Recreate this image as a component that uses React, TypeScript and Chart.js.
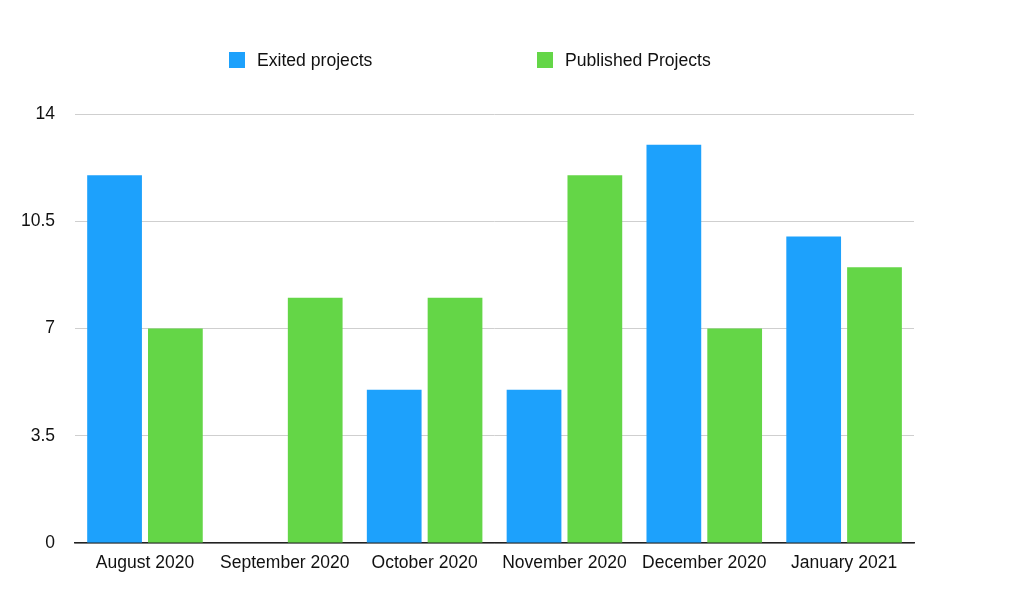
import React, { useEffect, useRef } from "react";
import { Chart, registerables } from "chart.js";

Chart.register(...registerables);

const categories = ["August 2020", "September 2020", "October 2020", "November 2020", "December 2020", "January 2021"];
const exitedProjects = [12, 0, 5, 5, 13, 10];
const publishedProjects = [7, 8, 8, 12, 7, 9];
const yTicks = [0, 3.5, 7, 10.5, 14];
const seriesNames = ["Exited projects", "Published Projects"];
const seriesColors = ["#1DA1FC", "#64D647"];

const FONT = "'Liberation Sans', Arial, Helvetica, sans-serif";

export default function App() {
  const ref = useRef<HTMLCanvasElement | null>(null);
  useEffect(() => {
    if (!ref.current) return;
    const chart = new Chart(ref.current, {
      type: "bar",
      data: {
        labels: categories,
        datasets: [
          { label: seriesNames[0], data: exitedProjects, backgroundColor: seriesColors[0], barPercentage: 0.9, categoryPercentage: 0.87 },
          { label: seriesNames[1], data: publishedProjects, backgroundColor: seriesColors[1], barPercentage: 0.9, categoryPercentage: 0.87 },
        ],
      },
      options: {
        animation: false,
        responsive: false,
        maintainAspectRatio: false,
        layout: { padding: { top: 114, left: 1, right: 110, bottom: 30 } },
        plugins: { legend: { display: false }, tooltip: { enabled: false } },
        scales: {
          x: {
            grid: { display: false },
            border: { display: true, color: "#222", width: 1.5 },
            ticks: { color: "#111", font: { family: FONT, size: 17.5 }, padding: 2, maxRotation: 0, autoSkip: false },
          },
          y: {
            min: 0,
            max: 14,
            afterBuildTicks: (axis: any) => {
              axis.ticks = yTicks.map((v) => ({ value: v }));
            },
            grid: { color: "#cfcfcf", lineWidth: 1, drawTicks: false },
            border: { display: false },
            ticks: { color: "#111", font: { family: FONT, size: 17.5 }, padding: 20 },
          },
        },
      },
    });
    return () => chart.destroy();
  }, []);

  return (
    <div style={{ position: "absolute", left: 0, top: 0, width: 1024, height: 606, background: "#fff" }}>
      <canvas ref={ref} width={1024} height={606} style={{ position: "absolute", left: 0, top: 0 }} />
      {seriesNames.map((name, i) => (
        <div
          key={name}
          style={{
            position: "absolute",
            left: i === 0 ? 229 : 537,
            top: 50,
            display: "flex",
            alignItems: "center",
            fontFamily: FONT,
            fontSize: 17.6,
            color: "#111",
            height: 20,
          }}
        >
          <span style={{ display: "inline-block", width: 16, height: 16, background: seriesColors[i], marginRight: 12 }} />
          <span>{name}</span>
        </div>
      ))}
    </div>
  );
}
